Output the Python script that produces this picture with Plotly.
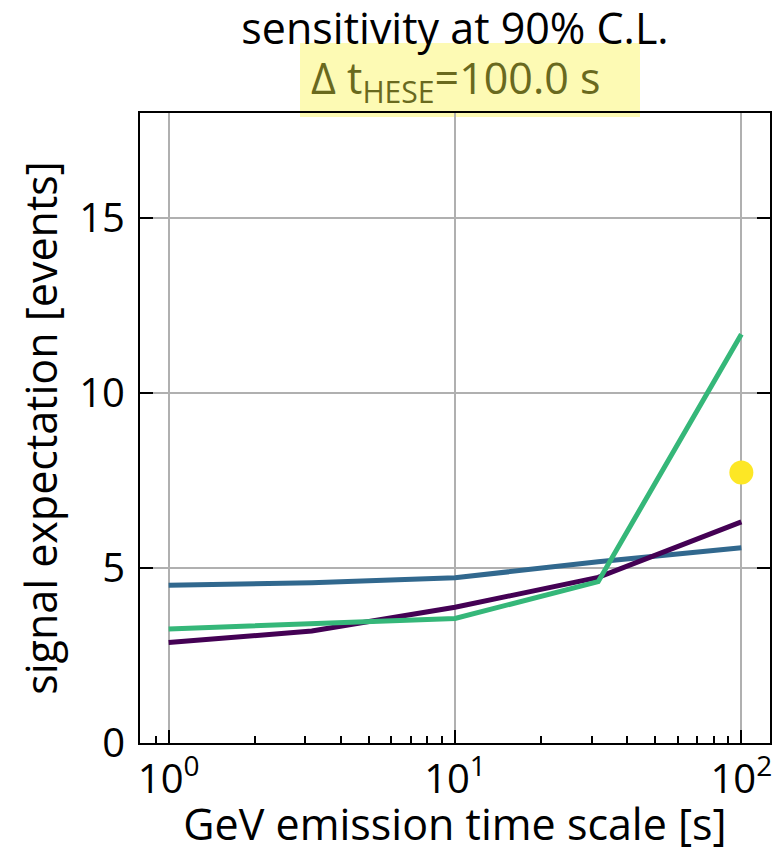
import plotly.graph_objects as go

time_scale = [1.0, 3.1623, 10.0, 31.623, 100.0]
series_purple = [2.87, 3.20, 3.88, 4.73, 6.32]
series_blue = [4.51, 4.58, 4.72, 5.18, 5.58]
series_green = [3.26, 3.40, 3.56, 4.61, 11.68]
point_x = [100.0]
point_y = [7.73]

colors = ["#440154", "#31688e", "#35b779", "#fde725"]
FONT = "Open Sans"

W, H = 774, 845
ML, MR, MT, MB = 132, 12, 105, 110

fig = go.Figure()
fig.add_trace(go.Scatter(x=time_scale, y=series_blue, mode="lines",
                         line=dict(color=colors[1], width=5), showlegend=False))
fig.add_trace(go.Scatter(x=time_scale, y=series_purple, mode="lines",
                         line=dict(color=colors[0], width=5), showlegend=False))
fig.add_trace(go.Scatter(x=time_scale, y=series_green, mode="lines",
                         line=dict(color=colors[2], width=5), showlegend=False))
fig.add_trace(go.Scatter(x=point_x, y=point_y, mode="markers",
                         marker=dict(color=colors[3], size=24, line=dict(width=0)),
                         showlegend=False, cliponaxis=False))

fig.update_layout(
    width=W, height=H,
    margin=dict(l=ML, r=MR, t=MT, b=MB, autoexpand=False),
    paper_bgcolor="white", plot_bgcolor="white",
    font=dict(family=FONT, color="black", size=40),
    title=dict(text="sensitivity at 90% C.L.", x=(455 - 8) / W, xanchor="center",
               xref="container", yref="container", y=1 - 6 / H, yanchor="top",
               font=dict(family=FONT, size=43, color="black")),
)

fig.update_xaxes(
    type="log", range=[-0.1, 2.1],
    tickvals=[1, 10, 100],
    ticktext=["10<sup>0</sup>", "10<sup>1</sup>", "10<sup>2</sup>"],
    tickfont=dict(size=40),
    ticks="inside", ticklen=13, tickwidth=2, tickcolor="black",
    showline=True, linecolor="black", linewidth=2, mirror=True,
    showgrid=True, gridcolor="#b0b0b0", gridwidth=2,
    zeroline=False,
    minor=dict(ticks="inside", ticklen=7, tickwidth=1.5, tickcolor="black",
               tickvals=[0.9, 2, 3, 4, 5, 6, 7, 8, 9, 20, 30, 40, 50, 60, 70, 80, 90],
               showgrid=False),
    title=dict(text="GeV emission time scale [s]", font=dict(size=43), standoff=12),
)
fig.update_yaxes(
    range=[0, 18],
    tickvals=[0, 5, 10, 15],
    tickfont=dict(size=40),
    ticklabelstandoff=5,
    ticks="inside", ticklen=13, tickwidth=2, tickcolor="black",
    showline=True, linecolor="black", linewidth=2, mirror="ticks",
    showgrid=True, gridcolor="#b0b0b0", gridwidth=2,
    zeroline=False,
    title=dict(text="signal expectation [events]", font=dict(size=43), standoff=8),
)

fig.add_shape(type="rect", xref="paper", yref="paper",
              x0=(300 - 140) / 630, x1=(640 - 140) / 630,
              y0=(743 - 117) / 630, y1=(743 - 43) / 630,
              fillcolor="#fdfab4", line=dict(width=0), layer="below")
fig.add_annotation(text="Δ t<sub>HESE</sub>=100.0 s", xref="paper", yref="paper",
                   x=(455 - 140) / 630, y=(743 - 80) / 630, xanchor="center", yanchor="middle",
                   showarrow=False, font=dict(family=FONT, size=43, color="#69691e"))

fig.write_html("out.html")
